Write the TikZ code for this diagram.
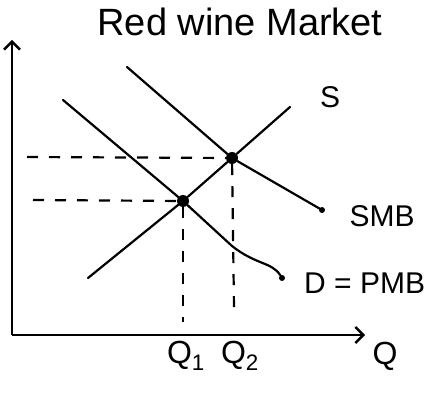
\documentclass[tikz,border=0pt]{standalone}
\usepackage{fontspec}
\setmainfont{Liberation Sans}
\usetikzlibrary{positioning,arrows.meta}

\begin{document}
\begin{tikzpicture}[
  x=1pt, y=-1pt,
  curve/.style={line width=2.2pt, line cap=round},
  guide/.style={line width=2.2pt, dash pattern=on 11pt off 11pt},
  axis/.style={line width=2.4pt, -{Straight Barb[length=8pt,width=16pt]}},
  eq/.style={circle, fill=black, inner sep=0pt, minimum size=12pt},
  tip/.style={circle, fill=black, inner sep=0pt, minimum size=6pt},
  lbl/.style={font=\fontsize{30}{34}\selectfont, inner sep=1pt}
]
\useasboundingbox (0,0) rectangle (444,395);
\coordinate (O) at (12,335);
\coordinate (ytop) at (12,40);
\coordinate (xend) at (365,335);
\draw[axis] (O) -- (ytop);
\draw[axis] (O) -- (xend);

\node[font=\fontsize{38}{42}\selectfont] (title) at (240,22) {Red wine Market};

\node[eq] (e1) at (183,201) {};
\node[eq] (e2) at (232,158) {};

\coordinate (s0) at (88,278);
\coordinate (s1) at (290,107);
\coordinate (d0) at (63,100);
\coordinate (dbend) at (232,246);
\node[tip] (d1) at (282,278) {};
\coordinate (m0) at (127,67);
\node[tip] (m1) at (322,210) {};

\draw[curve] (s0) -- (e1) -- (e2) -- (s1);
\draw[curve] (d0) -- (e1) -- (dbend) .. controls (256,265) and (272,262) .. (d1);
\draw[curve] (m0) -- (e2) -- (m1);

\coordinate (p1) at (33,200);
\coordinate (p2) at (27,157);
\coordinate (q1) at (183,322);
\coordinate (q2) at (234,308);
\draw[guide] (p2) -- (e2);
\draw[guide] (p1) -- (e1);
\draw[guide] (e1) -- (q1);
\draw[guide] (e2) -- (q2);

\node[lbl] (slbl) at (330,97) {S};
\node[lbl] (smblbl) at (382,216) {SMB};
\node[lbl, anchor=west] (dlbl) at (303,283) {D = PMB};
\node[lbl, font=\fontsize{32}{36}\selectfont] (qa) at (186,356) {Q\textsubscript{1}};
\node[lbl, font=\fontsize{32}{36}\selectfont] (qb) at (240,356) {Q\textsubscript{2}};
\node[lbl, font=\fontsize{32}{36}\selectfont] (qlbl) at (385,356) {Q};
\end{tikzpicture}
\end{document}
